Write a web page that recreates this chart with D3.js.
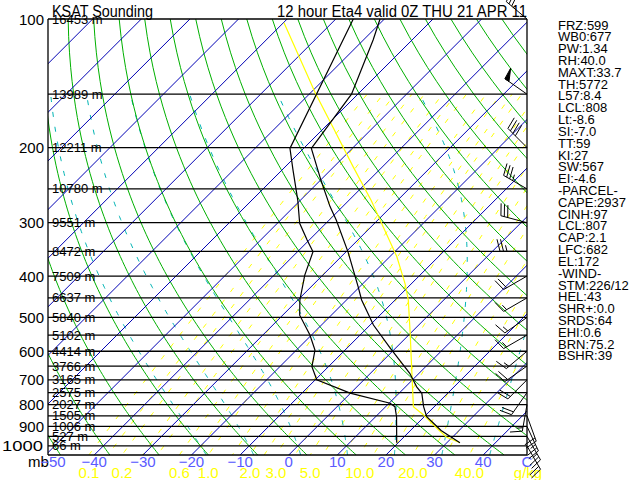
<!DOCTYPE html>
<html><head><meta charset="utf-8">
<script src="https://cdn.jsdelivr.net/npm/d3@7"></script>
<style>body{margin:0;background:#fff}svg{display:block}text{font-family:"Liberation Sans Narrow","Liberation Sans",sans-serif}</style>
</head><body><svg id="c" width="640" height="480"></svg>
<script>
// ---------- data ----------
const levels = [100,150,200,250,300,350,400,450,500,550,600,650,700,750,800,850,900,950,1000];
const heights = ["16453 m","13989 m","12211 m","10780 m","9551 m","8472 m","7509 m","6637 m","5840 m","5102 m","4414 m","3766 m","3165 m","2575 m","2027 m","1505 m","1006 m","527 m","66 m"];
const pressureLabels = [100,200,300,400,500,600,700,800,900,1000];
const tempTicks = [-50,-40,-30,-20,-10,0,10,20,30,40];
const isotherms = [-140,-130,-120,-110,-100,-90,-80,-70,-60,-50,-40,-30,-20,-10,0,10,20,30,40,50];
const dryAdiabats = [-50,-40,-30,-20,-10,0,10,20,30,40,50,60,70,80,90,100,110,120,130,140,150,160,170,180];
const moistAdiabats = [-20,-10,0,10,20,30,40];
const mixRatios = [0.1,0.15,0.2,0.3,0.4,0.6,0.8,1.0,1.5,2.0,2.5,3.0,4.0,5.0,6.0,8.0,10.0,12.0,15.0,20.0,25.0,30.0,40.0];
const mixLabelValues = [0.1,0.2,0.6,1.0,2.0,3.0,5.0,10.0,20.0,40.0];
const mixLabels = ["0.1","0.2","0.6","1.0","2.0","3.0","5.0","10.0","20.0","40.0"];

const tempP = [983,920,854,809,753,727,676,590,521,455,424,351,296,275,239,201,150,112,100];
const tempT = [32.7,26.3,20.5,17.8,14.7,12.3,8.1,-1.1,-9.3,-16.9,-20.3,-29.6,-38.5,-42.6,-49.8,-58.4,-61.3,-68,-70.9];
const dewP = [983,854,809,794,752,700,652,596,550,494,455,398,351,329,301,266,226,201,100];
const dewT = [19.7,14.3,11.9,10.2,-0.1,-9.7,-13.4,-16.2,-20.3,-26.5,-29.6,-33.7,-36.8,-40.5,-45.4,-50.5,-57.7,-62.8,-76.4];
const parcelP = [983,953,909,846,809,652,544,455,416,360,318,266,222,179,149,102];
const parcelT = [32.7,28.7,25,19.5,15.7,7.1,-0.1,-7.3,-11.4,-18.6,-25.5,-35.4,-46,-58.4,-69,-89.9];

const windP = [100,150,200,250,300,350,400,450,500,550,600,650,700,750,800,850,900,950,1000];
const windDir = [310,305,315,300,285,270,240,240,235,240,230,235,225,215,190,160,155,150,150];
const windSpd = [30,50,40,35,30,25,20,15,15,15,15,20,20,20,15,20,25,25,20];

const stats = ["FRZ:599","WB0:677","PW:1.34","RH:40.0","MAXT:33.7","TH:5772","L57:8.4","LCL:808","Lt:-8.6","SI:-7.0","TT:59","KI:27","SW:567","EI:-4.6","-PARCEL-","CAPE:2937","CINH:97","LCL:807","CAP:2.1","LFC:682","EL:172","-WIND-","STM:226/12","HEL:43","SHR+:0.0","SRDS:64","EHI:0.6","BRN:75.2","BSHR:39"];

// ---------- geometry ----------
const X0 = 48, X1 = 527, Y0 = 19, Y1 = 455;
const SKEW = 1.0, KAPPA = 0.28;
const yP = d3.scaleLog().domain([100,1050]).range([Y0,Y1]);
const xT = d3.scaleLinear().domain([-40,20]).range([103.3,395]);
const xs = (T,p) => xT(T) + (yP(1000) - yP(p)) * SKEW;

const svg = d3.select("#c");
svg.append("rect").attr("width",640).attr("height",480).attr("fill","#fff");
svg.append("defs").append("clipPath").attr("id","clip")
  .append("rect").attr("x",X0).attr("y",Y0).attr("width",X1-X0).attr("height",Y1-Y0);
const grid = svg.append("g").attr("clip-path","url(#clip)");
const line = d3.line().x(d=>xs(d[1],d[0])).y(d=>yP(d[0]));

// mixing ratio lines (yellow dashed)
const tdFromE = e => { const l = Math.log(e/6.112); return 243.5*l/(17.67-l); };
const mixP = d3.range(1050,149,-10);
mixRatios.forEach((w,i)=>{
  const pts = mixP.map(p=>[p, tdFromE(w*p/(622+w))]);
  grid.append("path").attr("d",line(pts)).attr("fill","none")
    .attr("stroke","#ffff00").attr("stroke-width",1).attr("stroke-dasharray","5,10")
    .attr("stroke-dashoffset", (i*6)%15);
});

// moist adiabats (cyan dashed)
function dTdp(p,T){
  const Tc=T-273.15, es=6.112*Math.exp(17.67*Tc/(Tc+243.5)), rs=0.622*es/(p-es);
  const Rd=287, cp=287/KAPPA, L=2.5e6;
  return ((Rd*T + L*rs)/p)/(cp + L*L*rs*0.622/(Rd*T*T));
}
function moist(thw){
  const up=[], dn=[];
  let p=1000, T=thw+273.15;
  up.push([p,T-273.15]);
  while(p>150){ const dp=-5; const k1=dTdp(p,T), k2=dTdp(p+dp/2,T+k1*dp/2); T+=k2*dp; p+=dp; up.push([p,T-273.15]); }
  p=1000; T=thw+273.15;
  while(p<1050){ const dp=5; const k1=dTdp(p,T), k2=dTdp(p+dp/2,T+k1*dp/2); T+=k2*dp; p+=dp; dn.unshift([p,T-273.15]); }
  return dn.concat(up);
}
moistAdiabats.forEach(t=>{
  grid.append("path").attr("d",line(moist(t))).attr("fill","none")
    .attr("stroke","#00b4b4").attr("stroke-width",1).attr("stroke-dasharray","5,10");
});

// dry adiabats (green)
const dryP = d3.range(100,1051,10);
dryAdiabats.forEach(th=>{
  const pts = dryP.map(p=>[p,(th+273.15)*Math.pow(p/1000,KAPPA)-273.15]);
  grid.append("path").attr("d",line(pts)).attr("fill","none").attr("stroke","#00b000").attr("stroke-width",1);
});

// isotherms (blue)
isotherms.forEach(t=>{
  grid.append("path").attr("d",line([[1050,t],[100,t]])).attr("fill","none").attr("stroke","#0000b4").attr("stroke-width",1);
});

// pressure lines
levels.concat([1050]).forEach(p=>{
  svg.append("line").attr("x1",X0).attr("x2",X1).attr("y1",yP(p)).attr("y2",yP(p)).attr("stroke","#000").attr("stroke-width",1.3);
});
svg.append("line").attr("x1",X0).attr("x2",X0).attr("y1",Y0).attr("y2",Y1).attr("stroke","#000").attr("stroke-width",1.3);
svg.append("line").attr("x1",X1).attr("x2",X1).attr("y1",Y0).attr("y2",Y1).attr("stroke","#000").attr("stroke-width",1.3);

// parcel
svg.append("path").attr("d",line(parcelP.map((p,i)=>[p,parcelT[i]]))).attr("fill","none").attr("stroke","#ffff00").attr("stroke-width",1.2);
// temperature and dewpoint
svg.append("path").attr("d",line(tempP.map((p,i)=>[p,tempT[i]]))).attr("fill","none").attr("stroke","#000").attr("stroke-width",1.2);
svg.append("path").attr("d",line(dewP.map((p,i)=>[p,dewT[i]]))).attr("fill","none").attr("stroke","#000").attr("stroke-width",1.2);

// height labels
levels.forEach((p,i)=>{
  svg.append("text").attr("x",52).attr("y",yP(p)+4.5).attr("font-size",13).attr("fill","#000").text(heights[i]);
});
// pressure labels
pressureLabels.forEach(p=>{
  const t = svg.append("text").attr("x",44).attr("y",yP(p)+5.5).attr("text-anchor","end").attr("font-size",15).attr("fill","#000").text(p);
  if(p>=1000) t.attr("x",2).attr("text-anchor","start").attr("textLength",41).attr("lengthAdjust","spacingAndGlyphs");
});
// bottom labels
svg.append("text").attr("x",28).attr("y",467).attr("font-size",15).attr("fill","#000").text("mb");
tempTicks.forEach(t=>{
  const x = Math.max(xs(t,1050), 53);
  svg.append("text").attr("x",x).attr("y",467).attr("text-anchor","middle").attr("font-size",15).attr("fill","#5a5aff").text(t<0?"\u2212"+(-t):t);
});
svg.append("text").attr("x",527).attr("y",467).attr("text-anchor","middle").attr("font-size",15).attr("fill","#5a5aff").text("C");
mixLabelValues.forEach((w,i)=>{
  const x = xs(tdFromE(w*1050/(622+w)),1050);
  svg.append("text").attr("x",x).attr("y",478).attr("text-anchor","middle").attr("font-size",15).attr("fill","#ffff00").text(mixLabels[i]);
});
svg.append("text").attr("x",528).attr("y",478).attr("text-anchor","middle").attr("font-size",15).attr("fill","#ffff00").text("g/kg");

// titles
svg.append("text").attr("x",52).attr("y",17).attr("font-size",16).attr("textLength",101).attr("lengthAdjust","spacingAndGlyphs").text("KSAT Sounding");
svg.append("text").attr("x",277).attr("y",17).attr("font-size",16).attr("textLength",250).attr("lengthAdjust","spacingAndGlyphs").text("12 hour Eta4 valid 0Z THU 21 APR 11");

// stats
stats.forEach((s,i)=>{
  svg.append("text").attr("x",558).attr("y",29.5+i*11.82).attr("font-size",13).attr("fill","#000").text(s);
});

// wind barbs
const bg = svg.append("g").attr("stroke","#000").attr("stroke-width",1).attr("fill","none");
windP.forEach((p,i)=>{
  const r = windDir[i]*Math.PI/180, sx=Math.sin(r), sy=-Math.cos(r);
  const px=-sy, py=sx, L=27, bx=X1, by=yP(p);
  const tx=bx+sx*L, ty=by+sy*L;
  bg.append("line").attr("x1",bx).attr("y1",by).attr("x2",tx).attr("y2",ty);
  let spd = Math.round(windSpd[i]/5)*5, pos=0;
  while(spd>=50){
    const ax=tx-sx*pos, ay=ty-sy*pos;
    bg.append("polygon").attr("points",[[ax,ay],[ax+px*12+sx*1.3,ay+py*12+sy*1.3],[ax-sx*5,ay-sy*5]].map(d=>d.join(",")).join(" ")).attr("fill","#000");
    pos+=7; spd-=50;
  }
  while(spd>=10){
    const ax=tx-sx*pos, ay=ty-sy*pos;
    bg.append("line").attr("x1",ax).attr("y1",ay).attr("x2",ax+px*12+sx*3).attr("y2",ay+py*12+sy*3);
    pos+=3.5; spd-=10;
  }
  if(spd>=5){
    if(pos===0) pos=3.5;
    const ax=tx-sx*pos, ay=ty-sy*pos;
    bg.append("line").attr("x1",ax).attr("y1",ay).attr("x2",ax+px*6+sx*1.5).attr("y2",ay+py*6+sy*1.5);
  }
});
</script></body></html>
